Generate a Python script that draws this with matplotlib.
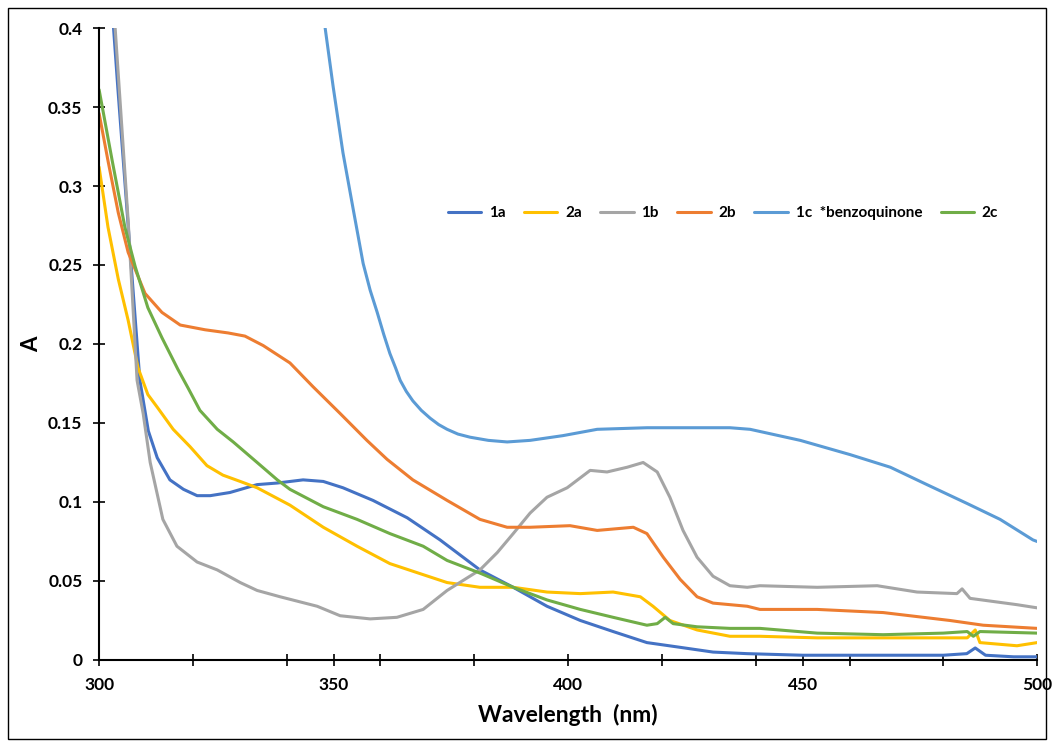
import matplotlib
matplotlib.use('Agg')
import matplotlib.pyplot as plt
from matplotlib.patches import Rectangle

plt.rcParams['font.family'] = ['Lato', 'DejaVu Sans']

# UV-vis spectra, wavelength (nm) vs absorbance
wl_1a = [302.6, 304.0, 306.2, 308.7, 310.5, 312.4, 315.1, 318.0, 320.9, 323.7, 327.9, 333.7, 338.0,
         343.5, 347.8, 352.0, 358.4, 365.7, 372.7, 381.2, 388.3, 395.5, 402.6, 409.6, 416.8,
         423.9, 430.9, 438.2, 450.0, 465.0, 480.0, 485.0, 486.8, 489.0, 495.0, 500.0]
a_1a = [0.42, 0.362, 0.275, 0.177, 0.145, 0.128, 0.114, 0.108, 0.104, 0.104, 0.106, 0.111, 0.112,
        0.114, 0.113, 0.109, 0.101, 0.090, 0.076, 0.057, 0.046, 0.034, 0.025, 0.018, 0.011,
        0.008, 0.005, 0.004, 0.003, 0.003, 0.003, 0.004, 0.0076, 0.003, 0.002, 0.002]

wl_2a = [300.0, 301.9, 304.1, 306.2, 308.3, 310.4, 312.4, 315.8, 319.4, 323.0, 326.4, 330.1, 333.7,
         340.7, 347.8, 355.0, 362.0, 369.1, 374.2, 381.2, 388.3, 395.5, 402.6, 409.6, 415.4,
         418.1, 421.7, 427.5, 434.5, 440.9, 453.1, 467.2, 485.1, 486.8, 487.8, 495.7, 500.0]
a_2a = [0.312, 0.274, 0.241, 0.215, 0.185, 0.168, 0.160, 0.146, 0.135, 0.123, 0.117, 0.113, 0.109,
        0.098, 0.084, 0.072, 0.061, 0.054, 0.049, 0.046, 0.046, 0.043, 0.042, 0.043, 0.040,
        0.034, 0.025, 0.019, 0.015, 0.015, 0.014, 0.014, 0.014, 0.019, 0.011, 0.009, 0.011]

wl_1b = [303.2, 306.2, 308.1, 309.4, 310.9, 313.6, 316.6, 320.9, 325.2, 330.1, 333.7, 338.6, 346.5,
         351.4, 357.8, 363.5, 369.1, 374.2, 381.2, 384.9, 388.3, 391.9, 395.5, 399.8, 404.7,
         408.3, 412.6, 416.0, 419.0, 421.7, 424.5, 427.5, 430.9, 434.5, 438.2, 440.9, 453.1,
         465.9, 474.4, 482.9, 484.0, 485.7, 495.7, 500.0]
a_1b = [0.41, 0.278, 0.177, 0.156, 0.125, 0.089, 0.072, 0.062, 0.057, 0.049, 0.044, 0.040, 0.034,
        0.028, 0.026, 0.027, 0.032, 0.044, 0.057, 0.068, 0.080, 0.093, 0.103, 0.109, 0.120,
        0.119, 0.122, 0.125, 0.119, 0.103, 0.082, 0.065, 0.053, 0.047, 0.046, 0.047, 0.046,
        0.047, 0.043, 0.042, 0.045, 0.039, 0.035, 0.033]

wl_2b = [300.0, 301.9, 304.1, 306.2, 309.8, 313.4, 317.3, 322.6, 327.5, 331.1, 335.0, 340.7, 345.6,
         351.4, 357.1, 361.4, 366.9, 374.2, 381.2, 387.0, 391.9, 400.4, 406.2, 413.9, 416.8,
         420.3, 423.9, 427.5, 430.9, 438.2, 440.9, 453.1, 467.2, 481.4, 488.5, 500.0]
a_2b = [0.346, 0.316, 0.283, 0.258, 0.232, 0.220, 0.212, 0.209, 0.207, 0.205, 0.199, 0.188, 0.173,
        0.156, 0.139, 0.127, 0.114, 0.101, 0.089, 0.084, 0.084, 0.085, 0.082, 0.084, 0.080,
        0.065, 0.051, 0.040, 0.036, 0.034, 0.032, 0.032, 0.030, 0.025, 0.022, 0.020]

wl_1c = [348.2, 349.9, 352.0, 354.2, 356.3, 357.8, 359.3, 360.7, 362.0, 363.2, 364.2, 365.5, 366.9,
         368.7, 370.6, 372.4, 374.2, 376.5, 379.1, 383.0, 387.0, 391.9, 398.9, 406.2, 416.8,
         423.9, 434.5, 438.8, 449.5, 460.1, 468.7, 476.5, 485.1, 492.1, 499.1, 500.0]
a_1c = [0.40, 0.363, 0.321, 0.285, 0.251, 0.234, 0.220, 0.206, 0.194, 0.185, 0.177, 0.170, 0.164,
        0.158, 0.153, 0.149, 0.146, 0.143, 0.141, 0.139, 0.138, 0.139, 0.142, 0.146, 0.147,
        0.147, 0.147, 0.146, 0.139, 0.130, 0.122, 0.111, 0.099, 0.089, 0.076, 0.075]

wl_2c = [300.0, 302.8, 305.5, 307.7, 310.4, 313.4, 316.8, 319.0, 321.5, 325.2, 328.6, 333.7, 338.0,
         340.7, 347.8, 355.0, 362.0, 369.1, 374.2, 381.2, 388.3, 395.5, 402.6, 409.6, 416.8,
         419.0, 420.7, 422.4, 427.5, 434.5, 440.9, 453.1, 467.2, 480.0, 485.1, 486.4, 487.8, 500.0]
a_2c = [0.361, 0.316, 0.274, 0.249, 0.223, 0.204, 0.184, 0.172, 0.158, 0.146, 0.138, 0.125, 0.114,
        0.108, 0.097, 0.089, 0.080, 0.072, 0.063, 0.055, 0.046, 0.038, 0.032, 0.027, 0.022,
        0.023, 0.027, 0.023, 0.021, 0.020, 0.020, 0.017, 0.016, 0.017, 0.018, 0.015, 0.018, 0.017]

series = [
    ('1a', wl_1a, a_1a, '#4472C4'),
    ('2a', wl_2a, a_2a, '#FFC000'),
    ('1b', wl_1b, a_1b, '#A5A5A5'),
    ('2b', wl_2b, a_2b, '#ED7D31'),
    ('1c  *benzoquinone', wl_1c, a_1c, '#5B9BD5'),
    ('2c', wl_2c, a_2c, '#70AD47'),
]

x_ticks = [300, 320, 340, 350, 360, 380, 400, 420, 440, 450, 460, 480, 500]
x_labels = ['300', '', '', '350', '', '', '400', '', '', '450', '', '', '500']
y_ticks = [0, 0.05, 0.1, 0.15, 0.2, 0.25, 0.3, 0.35, 0.4]
y_labels = ['0', '0.05', '0.1', '0.15', '0.2', '0.25', '0.3', '0.35', '0.4']

fig = plt.figure(figsize=(10.54, 7.47), dpi=100)
ax = fig.add_axes([0.094, 0.1165, 0.89, 0.846])

for name, x, y, col in series:
    ax.plot(x, y, color=col, lw=2.2, label=name, solid_capstyle='round', solid_joinstyle='round')

ax.set_xlim(300, 500)
ax.set_ylim(0, 0.4)
ax.set_xticks(x_ticks)
ax.set_xticklabels(x_labels)
ax.set_yticks(y_ticks)
ax.set_yticklabels(y_labels)
ax.tick_params(direction='inout', length=8, width=1.2, labelsize=12.5, pad=8)
for lbl in ax.get_xticklabels() + ax.get_yticklabels():
    lbl.set_fontweight('bold')

for side in ['top', 'right']:
    ax.spines[side].set_visible(False)
for side in ['left', 'bottom']:
    ax.spines[side].set_linewidth(1.5)

ax.set_xlabel('Wavelength  (nm)', fontsize=16.5, fontweight='bold', labelpad=8)
ax.set_ylabel('A', fontsize=16, fontweight='bold', labelpad=4)

leg = ax.legend(loc='center', bbox_to_anchor=(0.665, 0.707), ncol=6, frameon=False,
                handlelength=2.2, handletextpad=0.5, columnspacing=1.2,
                prop={'size': 11, 'weight': 'bold'})

# thin border around the whole figure
fig.patches.append(Rectangle((0.008, 0.011), 0.984, 0.978, transform=fig.transFigure,
                             fill=False, edgecolor='black', lw=1.0))

fig.savefig('out.png', dpi=100)
